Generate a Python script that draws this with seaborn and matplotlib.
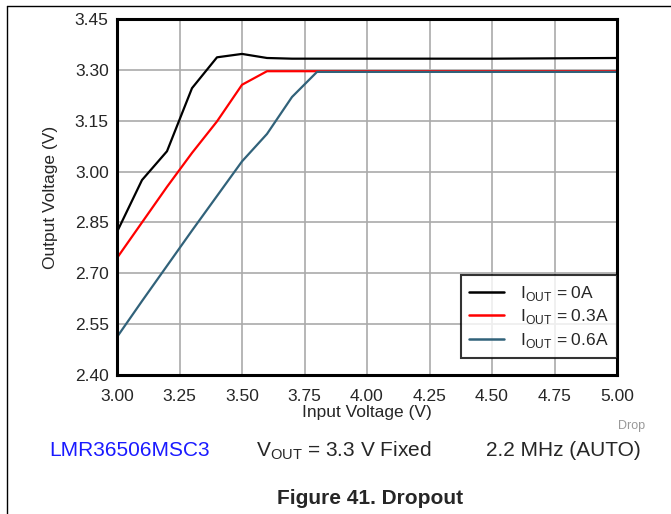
import numpy as np
import pandas as pd
import matplotlib
matplotlib.use("Agg")
import matplotlib.pyplot as plt
import seaborn as sns
from matplotlib.lines import Line2D

# Dropout data
vin_0a = [3.0, 3.1, 3.2, 3.3, 3.4, 3.5, 3.6, 3.7, 3.8, 4.0, 4.25, 4.5, 4.75, 5.0]
vout_0a = [2.822, 2.975, 3.06, 3.246, 3.337, 3.347, 3.335, 3.333, 3.333, 3.333, 3.333, 3.333, 3.334, 3.335]

vin_03a = [3.0, 3.1, 3.2, 3.3, 3.4, 3.5, 3.6, 3.7, 3.8, 4.0, 4.5, 5.0]
vout_03a = [2.745, 2.85, 2.955, 3.055, 3.148, 3.256, 3.296, 3.296, 3.296, 3.296, 3.296, 3.296]

vin_06a = [3.0, 3.1, 3.2, 3.3, 3.4, 3.5, 3.6, 3.7, 3.8, 4.0, 4.5, 5.0]
vout_06a = [2.512, 2.618, 2.722, 2.826, 2.928, 3.03, 3.111, 3.22, 3.294, 3.294, 3.294, 3.294]

labels = [r"I$_{\mathregular{OUT}}$ = 0A", r"I$_{\mathregular{OUT}}$ = 0.3A", r"I$_{\mathregular{OUT}}$ = 0.6A"]
colors = ["#000000", "#ff0000", "#31627a"]

xticks = [3.00, 3.25, 3.50, 3.75, 4.00, 4.25, 4.50, 4.75, 5.00]
yticks = [2.40, 2.55, 2.70, 2.85, 3.00, 3.15, 3.30, 3.45]

df = pd.concat([
    pd.DataFrame({"vin": vin_0a, "vout": vout_0a, "load": labels[0]}),
    pd.DataFrame({"vin": vin_03a, "vout": vout_03a, "load": labels[1]}),
    pd.DataFrame({"vin": vin_06a, "vout": vout_06a, "load": labels[2]}),
])

sns.set_style("white")
plt.rcParams["font.family"] = ["Liberation Sans", "DejaVu Sans"]
plt.rcParams["mathtext.fontset"] = "custom"
plt.rcParams["mathtext.rm"] = "Liberation Sans"

fig = plt.figure(figsize=(6.71, 5.14), dpi=100)
ax = fig.add_axes([117 / 671, 1 - 375 / 514, 500 / 671, 356 / 514])

sns.lineplot(data=df, x="vin", y="vout", hue="load", palette=colors,
             linewidth=1.6, ax=ax, sort=False, estimator=None)

ax.set_xlim(3.0, 5.0)
ax.set_ylim(2.40, 3.45)
ax.set_xticks(xticks)
ax.set_yticks(yticks)
ax.set_xticklabels([f"{t:.2f}" for t in xticks], fontsize=12.5)
ax.set_yticklabels([f"{t:.2f}" for t in yticks], fontsize=12.5)
ax.tick_params(axis="x", length=0, pad=10)
ax.tick_params(axis="y", length=0, pad=6)
ax.grid(True, color="#aaaaaa", linewidth=1.2)
ax.set_axisbelow(True)
for s in ax.spines.values():
    s.set_linewidth(2.2)
    s.set_color("black")

ax.set_xlabel("Input Voltage (V)", fontsize=12.5, labelpad=1)
ax.set_ylabel("Output Voltage (V)", fontsize=12.5, labelpad=12)

leg = ax.legend(loc="lower right", fontsize=12.5, frameon=True, fancybox=False,
                borderaxespad=0.0, handlelength=2.0, labelspacing=0.25,
                borderpad=0.5, handletextpad=0.9, bbox_to_anchor=(1.0, 0.047))
leg.get_frame().set_edgecolor("black")
leg.get_frame().set_linewidth(1.5)
for line in leg.get_lines():
    line.set_linewidth(1.8)

fig.text(632 / 671, 1 - 426 / 514, "Drop", fontsize=9, color="#999999", ha="center", va="center")
fig.text(130 / 671, 1 - 451 / 514, "LMR36506MSC3", fontsize=15, color="#1a1aff", ha="center", va="center")
fig.text(344 / 671, 1 - 451 / 514, r"V$_{\mathregular{OUT}}$ = 3.3 V Fixed", fontsize=15, ha="center", va="center")
fig.text(563 / 671, 1 - 451 / 514, "2.2 MHz (AUTO)", fontsize=15, ha="center", va="center")
fig.text(370 / 671, 1 - 498 / 514, "Figure 41. Dropout", fontsize=15, fontweight="bold", ha="center", va="center")

# page border lines
fig.add_artist(Line2D([7 / 671, 7 / 671], [0, 1 - 6 / 514], color="black", linewidth=1))
fig.add_artist(Line2D([7 / 671, 1], [1 - 6 / 514, 1 - 6 / 514], color="black", linewidth=1))

fig.savefig("out.png", dpi=100)
